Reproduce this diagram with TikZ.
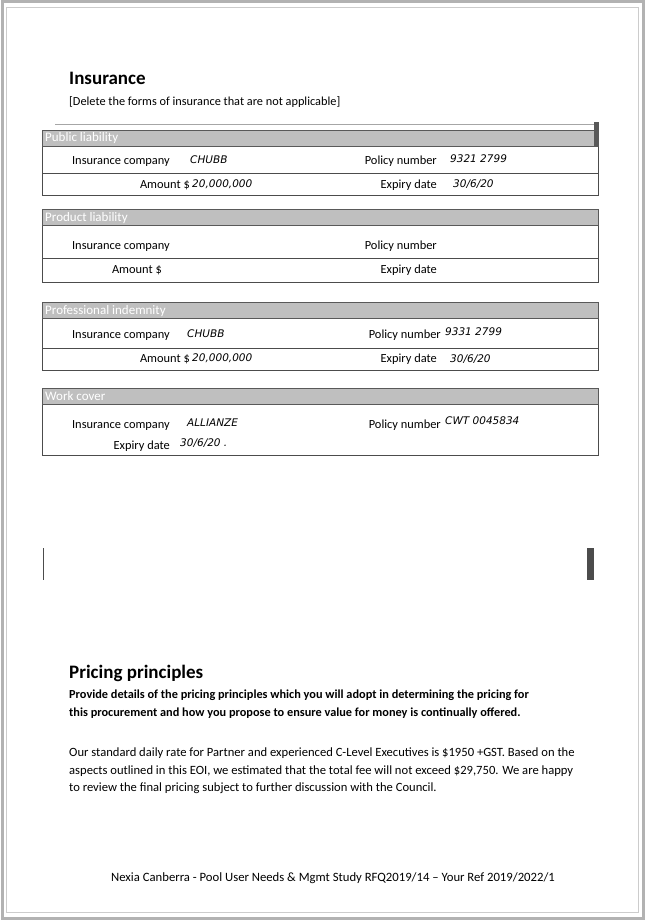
\documentclass[tikz,border=0pt]{standalone}
\usepackage{fontspec}
\setmainfont{Carlito}
\newfontfamily\hand{DejaVu Sans Oblique}
\tikzset{
 lab/.style={font=\fontsize{12.4}{14}\selectfont, anchor=base east, inner sep=0},
 hw/.style={font=\hand\fontsize{10.5}{12}\selectfont, anchor=base west, inner sep=0},
 hdr/.style={fill=gray!50, draw=gray!70!black},
 hdrtxt/.style={font=\fontsize{13}{14}\selectfont\color{white}, anchor=base west, inner sep=0},
 body/.style={anchor=north west, inner sep=0, align=left},
 ttl/.style={font=\bfseries\fontsize{19}{22}\selectfont, anchor=base west, inner sep=0},
}
\begin{document}
\begin{tikzpicture}[x=1pt,y=-1pt]
\useasboundingbox (0,0) rectangle (645,920);
\fill[white] (0,0) rectangle (645,920);
\draw[gray!60, line width=3pt] (2,2) rectangle (643,918);
\draw[gray!40, line width=1pt] (6,8) rectangle (638,912);
\node[ttl] (t1) at (69,85) {Insurance};
\node[font=\fontsize{12.3}{14}\selectfont, anchor=base west, inner sep=0] (t2) at (69,106) {[Delete the forms of insurance that are not applicable]};
\newcommand{\insbox}[4]{% top, bottom, title, name
 \draw[gray!60!black, line width=0.8pt] (42,#1) rectangle (598,#2);
 \fill[hdr] (42,#1) rectangle (598,#1+16);
 \node[hdrtxt] (#4) at (45,#1+12) {#3};
}
\draw[gray!70] (55,124) -- (598,124);
\insbox{130}{195}{Public liability}{h1}
\fill[gray!70!black] (594,122) rectangle (599,147);
\node[lab] (a1) at (170,165) {Insurance company};
\node[hw] (a2) at (190,164) {CHUBB};
\node[lab] (a3) at (437,165) {Policy number};
\node[hw] (a4) at (450,163) {9321 2799};
\draw[gray!60!black] (42,173) -- (598,173);
\node[lab] (a5) at (190,189) {Amount \$};
\node[hw] (a6) at (192,188) {20,000,000};
\node[lab] (a7) at (437,189) {Expiry date};
\node[hw] (a8) at (453,187) {30/6/20};
\insbox{209}{282}{Product liability}{h2}
\node[lab] (b1) at (170,249) {Insurance company};
\node[lab] (b3) at (437,249) {Policy number};
\draw[gray!60!black] (42,258) -- (598,258);
\node[lab] (b5) at (162,273) {Amount \$};
\node[lab] (b7) at (437,273) {Expiry date};
\insbox{302}{370}{Professional indemnity}{h3}
\node[lab] (c1) at (170,338) {Insurance company};
\node[hw] (c2) at (187,337) {CHUBB};
\node[lab] (c3) at (441,338) {Policy number};
\node[hw] (c4) at (445,335) {9331 2799};
\draw[gray!60!black] (42,348) -- (598,348);
\node[lab] (c5) at (190,362) {Amount \$};
\node[hw] (c6) at (192,361) {20,000,000};
\node[lab] (c7) at (437,362) {Expiry date};
\node[hw] (c8) at (450,362) {30/6/20};
\insbox{388}{455}{Work cover}{h4}
\node[lab] (d1) at (170,428) {Insurance company};
\node[hw] (d2) at (187,426) {ALLIANZE};
\node[lab] (d3) at (441,428) {Policy number};
\node[hw] (d4) at (445,424) {CWT 0045834};
\node[lab] (d5) at (170,449) {Expiry date};
\node[hw] (d6) at (180,446) {30/6/20 .};
\draw[gray!60!black] (43,548) -- (43,580);
\fill[gray!60!black] (587,548) rectangle (594,580);
\node[ttl] (p1) at (69,678) {Pricing principles};
\node[body, font=\bfseries\fontsize{12.3}{18}\selectfont] (p2) at (69,690) {Provide details of the pricing principles which you will adopt in determining the pricing for\\this procurement and how you propose to ensure value for money is continually offered.};
\node[body, font=\fontsize{12.6}{17.5}\selectfont] (p3) at (69,748) {Our standard daily rate for Partner and experienced C-Level Executives is \$1950 +GST. Based on the\\aspects outlined in this EOI, we estimated that the total fee will not exceed \$29,750. We are happy\\to review the final pricing subject to further discussion with the Council.};
\node[font=\fontsize{12.7}{14}\selectfont, anchor=base, inner sep=0] (f) at (333,881) {Nexia Canberra - Pool User Needs \& Mgmt Study RFQ2019/14 – Your Ref 2019/2022/1};
\end{tikzpicture}
\end{document}
